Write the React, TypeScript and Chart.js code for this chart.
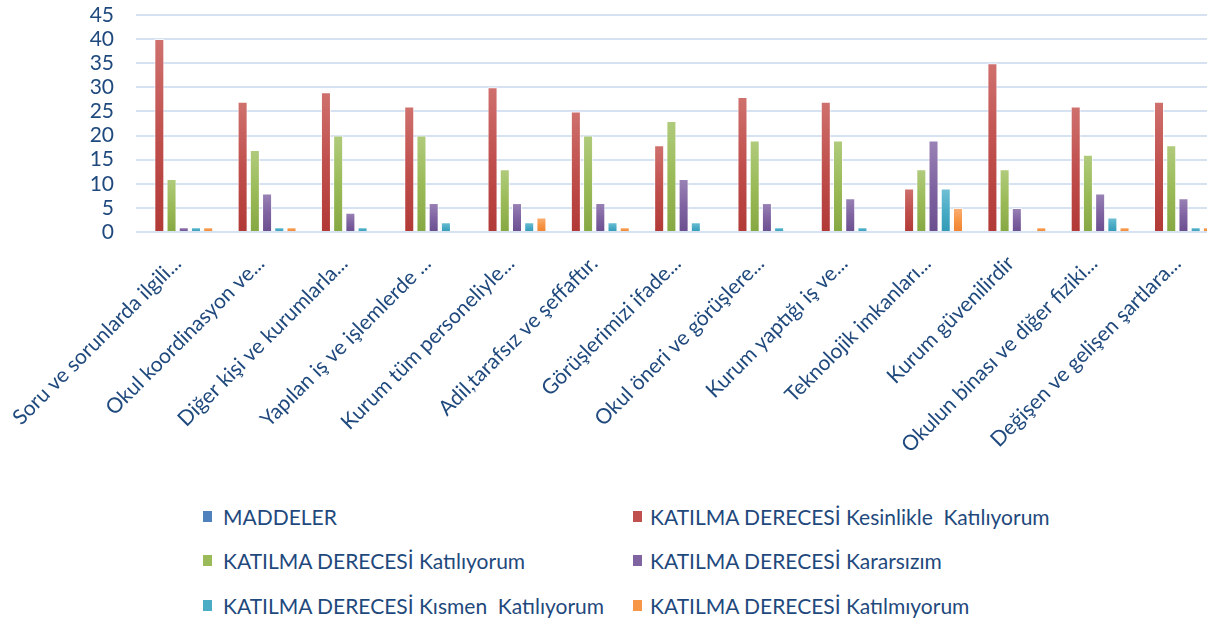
import React, { useEffect, useRef } from "react";
import { Chart, registerables } from "chart.js";

Chart.register(...registerables);

const categories: string[] = [
  "Soru ve sorunlarda ilgili...",
  "Okul koordinasyon ve...",
  "Diğer kişi ve kurumlarla...",
  "Yapılan iş ve işlemlerde ...",
  "Kurum tüm personeliyle...",
  "Adil,tarafsız ve şeffaftır.",
  "Görüşlerimizi ifade...",
  "Okul öneri ve görüşlere...",
  "Kurum yaptığı iş ve...",
  "Teknolojik imkanları...",
  "Kurum güvenilirdir",
  "Okulun binası ve diğer fiziki...",
  "Değişen ve gelişen şartlara...",
];

const seriesNames: string[] = [
  "MADDELER",
  "KATILMA DERECESİ Kesinlikle  Katılıyorum",
  "KATILMA DERECESİ Katılıyorum",
  "KATILMA DERECESİ Kararsızım",
  "KATILMA DERECESİ Kısmen  Katılıyorum",
  "KATILMA DERECESİ Katılmıyorum",
];

const maddeler: (number | null)[] = [null, null, null, null, null, null, null, null, null, null, null, null, null];
const kesinlikle: number[] = [40, 27, 29, 26, 30, 25, 18, 28, 27, 9, 35, 26, 27];
const katiliyorum: number[] = [11, 17, 20, 20, 13, 20, 23, 19, 19, 13, 13, 16, 18];
const kararsizim: number[] = [1, 8, 4, 6, 6, 6, 11, 6, 7, 19, 5, 8, 7];
const kismen: number[] = [1, 1, 1, 2, 2, 2, 2, 1, 1, 9, 0, 3, 1];
const katilmiyorum: number[] = [1, 1, 0, 0, 3, 1, 0, 0, 0, 5, 1, 1, 1];

const yTicks: number[] = [0, 5, 10, 15, 20, 25, 30, 35, 40, 45];

const baseColors = ["#4F81BD", "#C0504D", "#9BBB59", "#8064A2", "#4BACC6", "#F79646"];
const lightColors = ["#7FA3D1", "#CF716E", "#B0CB7C", "#9A83B6", "#70C0D5", "#F9B078"];
const darkColors = ["#3A6AA3", "#B13936", "#86A843", "#6A4E8E", "#329AB5", "#EF8330"];

const TEXT_COLOR = "#1F497D";

export default function App() {
  const canvasRef = useRef<HTMLCanvasElement | null>(null);

  useEffect(() => {
    const canvas = canvasRef.current;
    if (!canvas) return;
    const allData = [maddeler, kesinlikle, katiliyorum, kararsizim, kismen, katilmiyorum];

    const chart = new Chart(canvas, {
      type: "bar",
      data: {
        labels: categories,
        datasets: allData.map((d, i) => ({
          label: seriesNames[i],
          data: d as any,
          backgroundColor: (ctx: any) => {
            const c = ctx.chart;
            const area = c.chartArea;
            const v = ctx.raw;
            if (!area || v == null) return baseColors[i];
            const yScale = c.scales.y;
            const top = yScale.getPixelForValue(v);
            const bottom = yScale.getPixelForValue(0);
            if (!isFinite(top) || bottom - top < 1) return baseColors[i];
            const g = c.ctx.createLinearGradient(0, top, 0, bottom);
            g.addColorStop(0, lightColors[i]);
            g.addColorStop(0.5, baseColors[i]);
            g.addColorStop(1, darkColors[i]);
            return g;
          },
          borderColor: "rgba(255,255,255,0.7)",
          borderWidth: 1,
          categoryPercentage: 0.88,
          barPercentage: 0.82,
        })),
      },
      options: {
        responsive: false,
        animation: false,
        devicePixelRatio: 1,
        layout: { padding: { top: 15, left: 0, right: 0, bottom: 0 } },
        plugins: {
          legend: { display: false },
          tooltip: { enabled: false },
        },
        scales: {
          x: {
            grid: { display: false, drawTicks: false },
            border: { display: false },
            ticks: {
              color: TEXT_COLOR,
              font: { family: "Lato", size: 21 },
              maxRotation: 45,
              minRotation: 45,
              autoSkip: false,
              padding: 19,
            },
            afterFit: (s: any) => {
              s.height = 470 - 232;
              s.paddingLeft = 0;
              s.paddingRight = 0;
            },
          },
          y: {
            min: 0,
            max: 45,
            afterBuildTicks: (s: any) => {
              s.ticks = yTicks.map((v) => ({ value: v }));
            },
            grid: { color: "#D6E1F1", lineWidth: 2, drawTicks: false },
            border: { display: false },
            ticks: {
              color: TEXT_COLOR,
              font: { family: "Lato", size: 21 },
              padding: 22,
              autoSkip: false,
            },
            afterFit: (s: any) => {
              s.width = 136;
              s.paddingTop = 0;
              s.paddingBottom = 0;
            },
          },
        },
      },
    });
    return () => chart.destroy();
  }, []);

  const legendPos = [
    { x: 203, tx: 223, y: 517 },
    { x: 633, tx: 650, y: 517 },
    { x: 203, tx: 223, y: 561 },
    { x: 633, tx: 650, y: 561 },
    { x: 203, tx: 223, y: 606 },
    { x: 633, tx: 650, y: 606 },
  ];

  return (
    <div
      style={{
        position: "fixed",
        left: 0,
        top: 0,
        width: 1207,
        height: 622,
        overflow: "hidden",
        background: "#ffffff",
      }}
    >
      <canvas ref={canvasRef} width={1219} height={470} style={{ position: "absolute", left: 0, top: 0 }} />
      {seriesNames.map((name, i) => (
        <React.Fragment key={name}>
          <div
            style={{
              position: "absolute",
              left: legendPos[i].x,
              top: legendPos[i].y - 6,
              width: 9,
              height: 11,
              background: baseColors[i],
            }}
          />
          <div
            style={{
              position: "absolute",
              left: legendPos[i].tx,
              top: legendPos[i].y - 14,
              height: 28,
              lineHeight: "28px",
              whiteSpace: "pre",
              fontFamily: "Lato",
              fontSize: 21,
              color: TEXT_COLOR,
            }}
          >
            {name}
          </div>
        </React.Fragment>
      ))}
    </div>
  );
}
